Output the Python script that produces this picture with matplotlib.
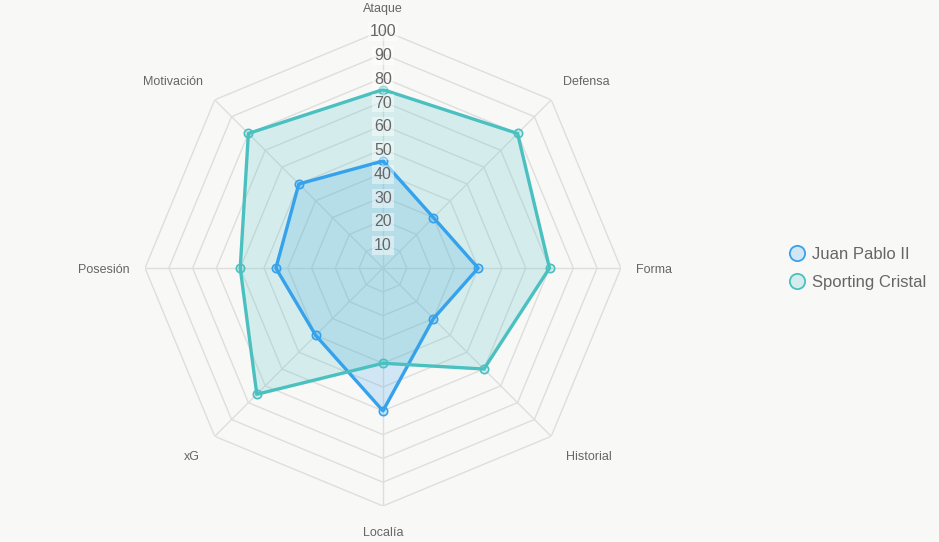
import numpy as np
import matplotlib
matplotlib.use("Agg")
import matplotlib.pyplot as plt
from matplotlib.lines import Line2D
from matplotlib.colors import to_rgba

categories = ["Ataque", "Defensa", "Forma", "Historial", "Localía", "xG", "Posesión", "Motivación"]
juan_pablo = [45, 30, 40, 30, 60, 40, 45, 50]
sporting = [75, 80, 70, 60, 40, 75, 60, 80]
series_names = ["Juan Pablo II", "Sporting Cristal"]
ticks = [10, 20, 30, 40, 50, 60, 70, 80, 90, 100]

BG = "#f8f8f7"
BLUE = "#36a2eb"
TEAL = "#4bc0c0"
GRID = "#dedede"

plt.rcParams["font.family"] = ["Liberation Sans", "DejaVu Sans"]

fig = plt.figure(figsize=(9.39, 5.42), dpi=100, facecolor=BG)
ax = fig.add_axes([0.1544, 0.0664, 0.5069, 0.878], projection="polar")
ax.set_facecolor("none")
ax.set_theta_offset(np.pi / 2)
ax.set_theta_direction(-1)
ax.set_ylim(0, 100)
ax.grid(False)
ax.spines["polar"].set_visible(False)
ax.set_xticks([])
ax.set_yticks([])

n = len(categories)
angles = np.arange(n) * 2 * np.pi / n
closed = np.append(angles, angles[0])

# octagonal grid
for t in ticks:
    ax.plot(closed, [t] * (n + 1), color=GRID, lw=1, zorder=1)
for a in angles:
    ax.plot([a, a], [0, 100], color=GRID, lw=1, zorder=1)

for vals, col in [(juan_pablo, BLUE), (sporting, TEAL)]:
    v = np.append(vals, vals[0])
    ax.fill(closed, v, color=col, alpha=0.2, lw=0, zorder=2)
    ax.plot(closed, v, color=col, lw=2.4, zorder=3)
    ax.plot(angles, vals, "o", ms=6, mfc=to_rgba(col, 0.2), mec=col, mew=1.2, zorder=4)

# tick labels
for t in ticks:
    ax.text(0, t, str(t), ha="center", va="center_baseline", fontsize=11.5, color="#666666",
            zorder=5, bbox=dict(boxstyle="square,pad=0.12", fc="white", ec="none", alpha=0.45))

# category labels
for a, lab in zip(angles, categories):
    s, c = np.sin(a), np.cos(a)
    ha = "center" if abs(s) < 0.1 else ("left" if s > 0 else "right")
    va = "center_baseline" if abs(c) < 0.1 else ("bottom" if c > 0 else "top")
    if c < -0.1:
        r = 109
    elif abs(s) > 0.1 and abs(c) > 0.1:
        r = 107
    else:
        r = 106.5
    ax.text(a, r, lab, ha=ha, va=va, fontsize=9, color="#666666")

handles = [Line2D([], [], ls="none", marker="o", ms=11, mfc=to_rgba(c, 0.2), mec=c, mew=1.3)
           for c in (BLUE, TEAL)]
fig.legend(handles, series_names, loc="center left", bbox_to_anchor=(0.822, 0.505),
           frameon=False, fontsize=12, labelcolor="#666666", handletextpad=0.3,
           labelspacing=0.8, handlelength=1.2)

fig.savefig("out.png", dpi=100, facecolor=BG)
